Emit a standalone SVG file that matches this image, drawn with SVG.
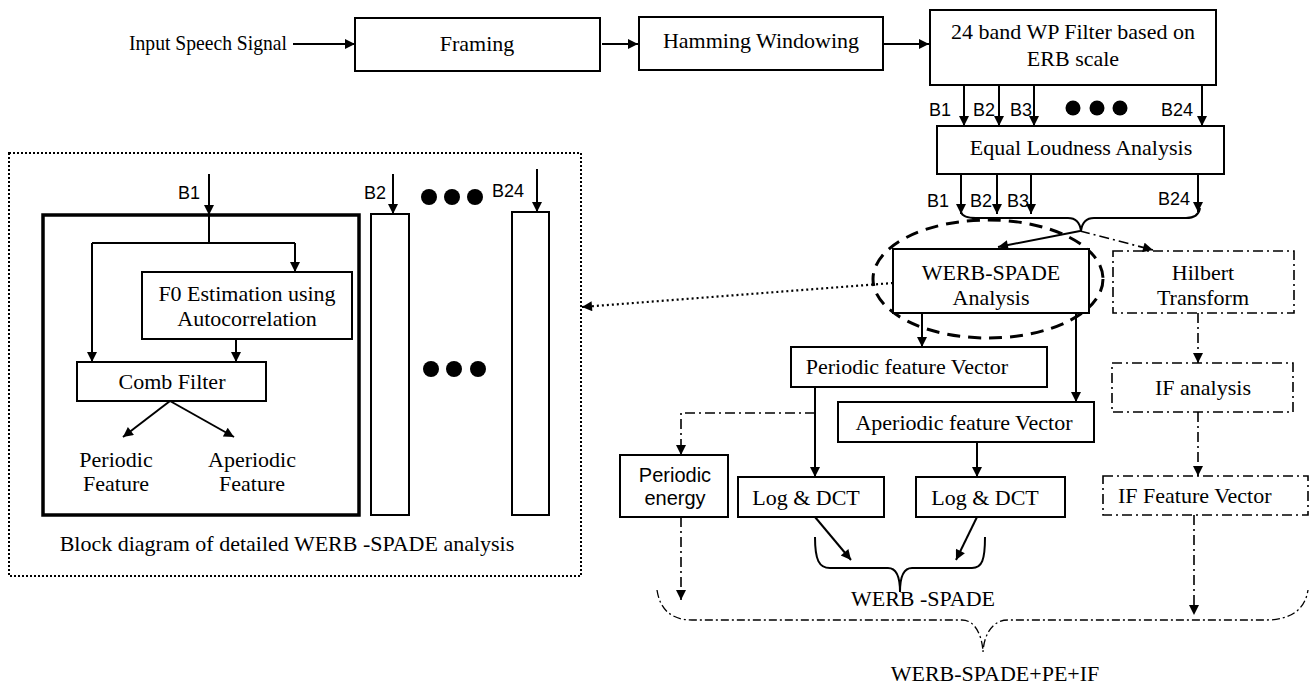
<svg xmlns="http://www.w3.org/2000/svg" width="1312" height="687" viewBox="0 0 1312 687">
<defs>
<marker id="ah" viewBox="0 0 10 10" refX="10" refY="5" markerWidth="12" markerHeight="10" markerUnits="userSpaceOnUse" orient="auto"><path d="M0,0 L10,5 L0,10 z" fill="#000"/></marker>
<style>
.t{font-family:"Liberation Serif","Times New Roman",serif;font-size:22px;fill:#000}
.m{text-anchor:middle}
.s{font-family:"Liberation Sans",Arial,sans-serif;font-size:18px;fill:#000}
.pe{font-family:"Liberation Sans",Arial,sans-serif;font-size:20px;fill:#000;text-anchor:middle}
.box{fill:#fff;stroke:#000;stroke-width:2}
.dbox{fill:#fff;stroke:#000;stroke-width:1.6;stroke-dasharray:10 4 2 4}
.ln{fill:none;stroke:#000;stroke-width:2}
.a{fill:none;stroke:#000;stroke-width:2;marker-end:url(#ah)}
.da{fill:none;stroke:#000;stroke-width:1.6;stroke-dasharray:10 4 2 4;marker-end:url(#ah)}
</style>
</defs>
<rect width="1312" height="687" fill="#fff"/>

<g id="detail-panel">
<rect x="9" y="153" width="572" height="423" fill="none" stroke="#000" stroke-width="2" stroke-dasharray="2 2"/>
<rect x="43" y="215" width="316" height="300" fill="none" stroke="#000" stroke-width="3.5"/>
<text class="s" x="178" y="199">B1</text>
<rect x="371" y="214" width="38" height="301" class="box" stroke-width="1.6"/>
<text class="s" x="364" y="199">B2</text>
<rect x="512" y="212" width="37" height="303" class="box" stroke-width="1.6"/>
<text class="s" x="492" y="197">B24</text>
<circle cx="429" cy="197" r="8"/><circle cx="452" cy="197" r="8"/><circle cx="475" cy="197" r="8"/>
<circle cx="431" cy="369" r="8"/><circle cx="454" cy="369" r="8"/><circle cx="478" cy="369" r="8"/>
<text class="t m" x="287" y="551" font-size="21">Block diagram of detailed WERB -SPADE analysis</text>
</g>

<g id="f0">
<rect x="142" y="272" width="210" height="67" class="box"/>
<text class="t m" x="247" y="301">F0 Estimation using</text>
<text class="t m" x="247" y="326">Autocorrelation</text>
</g>
<g id="comb">
<rect x="77" y="362" width="189" height="39" class="box"/>
<text class="t m" x="172" y="389">Comb Filter</text>
</g>
<g id="periodic-feature">
<text class="t m" x="116" y="467">Periodic</text>
<text class="t m" x="116" y="491">Feature</text>
</g>
<g id="aperiodic-feature">
<text class="t m" x="252" y="467">Aperiodic</text>
<text class="t m" x="252" y="491">Feature</text>
</g>

<g id="input"><text class="t" x="129" y="50" font-size="20" textLength="158" lengthAdjust="spacingAndGlyphs">Input Speech Signal</text></g>
<g id="framing">
<rect x="355" y="18" width="245" height="53" class="box"/>
<text class="t m" x="477" y="51">Framing</text>
</g>
<g id="hamming">
<rect x="639" y="17" width="244" height="53" class="box"/>
<text class="t m" x="761" y="48">Hamming Windowing</text>
</g>
<g id="wp-filter">
<rect x="930" y="10" width="286" height="75" class="box"/>
<text class="t m" x="1073" y="39">24 band WP Filter based on</text>
<text class="t m" x="1073" y="66">ERB scale</text>
</g>
<g id="equal-loudness">
<rect x="937" y="126" width="287" height="48" class="box"/>
<text class="t m" x="1081" y="155">Equal Loudness Analysis</text>
</g>
<g id="werb-spade">
<ellipse cx="988" cy="279" rx="115" ry="59" fill="none" stroke="#000" stroke-width="3" stroke-dasharray="13 8"/>
<rect x="893" y="249" width="196" height="64" class="box"/>
<text class="t m" x="991" y="280">WERB-SPADE</text>
<text class="t m" x="991" y="305">Analysis</text>
</g>
<g id="hilbert">
<rect x="1113" y="251" width="181" height="62" class="dbox"/>
<text class="t m" x="1203" y="280">Hilbert</text>
<text class="t m" x="1203" y="305">Transform</text>
</g>
<g id="if-analysis">
<rect x="1112" y="363" width="181" height="49" class="dbox"/>
<text class="t m" x="1203" y="395">IF analysis</text>
</g>
<g id="if-feature">
<rect x="1103" y="476" width="205" height="39" class="dbox" stroke-dasharray="8 3 2 3 2 3"/>
<text class="t" x="1118" y="503">IF Feature Vector</text>
</g>
<g id="periodic-vector">
<rect x="791" y="347" width="256" height="40" class="box"/>
<text class="t m" x="907" y="374">Periodic feature Vector</text>
</g>
<g id="aperiodic-vector">
<rect x="838" y="402" width="256" height="40" class="box"/>
<text class="t m" x="964" y="430">Aperiodic feature Vector</text>
</g>
<g id="periodic-energy">
<rect x="620" y="455" width="108" height="62" class="box"/>
<text class="pe" x="675" y="482">Periodic</text>
<text class="pe" x="675" y="505">energy</text>
</g>
<g id="logdct1">
<rect x="738" y="477" width="146" height="40" class="box"/>
<text class="t m" x="806" y="505">Log &amp; DCT</text>
</g>
<g id="logdct2">
<rect x="916" y="477" width="149" height="40" class="box"/>
<text class="t m" x="985" y="505">Log &amp; DCT</text>
</g>
<g id="werb-spade-label"><text class="t m" x="923" y="606" font-size="21">WERB -SPADE</text></g>
<g id="final-label"><text class="t m" x="995" y="681" font-size="21">WERB-SPADE+PE+IF</text></g>

<g id="band-labels">
<text class="s" x="929" y="116">B1</text>
<text class="s" x="973" y="116">B2</text>
<text class="s" x="1010" y="116">B3</text>
<text class="s" x="1161" y="116">B24</text>
<circle cx="1073" cy="108" r="7.5"/><circle cx="1097" cy="108" r="7.5"/><circle cx="1120" cy="108" r="7.5"/>
<text class="s" x="927" y="207">B1</text>
<text class="s" x="970" y="207">B2</text>
<text class="s" x="1007" y="207">B3</text>
<text class="s" x="1158" y="205">B24</text>
</g>

<g id="connectors">
<line class="a" x1="293" y1="44" x2="355" y2="44"/>
<line class="a" x1="602" y1="44" x2="638" y2="44"/>
<line class="a" x1="884" y1="44" x2="929" y2="44"/>
<line class="a" x1="964" y1="85" x2="964" y2="126"/>
<line class="a" x1="999" y1="85" x2="999" y2="126"/>
<line class="a" x1="1034" y1="85" x2="1034" y2="126"/>
<line class="a" x1="1202" y1="85" x2="1202" y2="126"/>
<line class="a" x1="961" y1="174" x2="961" y2="214"/>
<line class="a" x1="997" y1="174" x2="997" y2="214"/>
<line class="a" x1="1031" y1="174" x2="1031" y2="214"/>
<line class="a" x1="1198" y1="174" x2="1198" y2="212"/>
<path class="ln" stroke-width="1.6" d="M961,212 C962,216 966,218 976,218 L1068,218 C1076,218 1080,223 1081,231 C1082,223 1086,218 1094,218 L1186,218 C1195,218 1199,214 1200,208"/>
<line class="a" x1="1080" y1="231" x2="998" y2="247"/>
<line class="da" x1="1080" y1="231" x2="1153" y2="250"/>
<line class="da" x1="1198" y1="313" x2="1198" y2="363"/>
<line class="da" x1="1198" y1="412" x2="1198" y2="476"/>
<line class="da" x1="1194" y1="515" x2="1194" y2="615"/>
<line class="a" x1="922" y1="313" x2="922" y2="347"/>
<line class="a" x1="1076" y1="313" x2="1076" y2="402"/>
<line class="a" x1="815" y1="387" x2="815" y2="477"/>
<path class="da" d="M815,413 L681,413 L681,455"/>
<line class="a" x1="977" y1="442" x2="977" y2="477"/>
<line class="da" x1="681" y1="517" x2="681" y2="600"/>
<line class="a" x1="815" y1="517" x2="851" y2="560"/>
<line class="a" x1="977" y1="517" x2="956" y2="560"/>
<path class="ln" stroke-width="1.6" d="M815,537 C815,560 819,568 830,568 L888,568 C896,568 900,576 900,592 C900,576 904,568 912,568 L972,568 C982,568 985,560 985,537"/>
<path fill="none" stroke="#000" stroke-width="1.3" stroke-dasharray="8 3 2 3" d="M657,590 C660,610 672,620 692,620 L962,620 C975,620 982,635 983,652 C984,635 992,620 1008,620 L1266,620 C1290,620 1305,610 1308,590"/>
<line fill="none" stroke="#000" stroke-width="2.2" stroke-dasharray="2 3" marker-end="url(#ah)" x1="893" y1="283" x2="582" y2="307"/>
<line class="a" x1="209" y1="174" x2="209" y2="215"/>
<path class="ln" d="M209,215 L209,243 M92,243 L295,243"/>
<path class="a" d="M92,243 L92,362"/>
<path class="a" d="M295,243 L295,272"/>
<line class="a" x1="236" y1="339" x2="236" y2="362"/>
<line class="a" x1="170" y1="401" x2="123" y2="437"/>
<line class="a" x1="170" y1="401" x2="234" y2="437"/>
<line class="a" stroke-width="1.6" x1="393" y1="174" x2="393" y2="214"/>
<line class="a" stroke-width="1.6" x1="537" y1="169" x2="537" y2="212"/>
</g>
</svg>
